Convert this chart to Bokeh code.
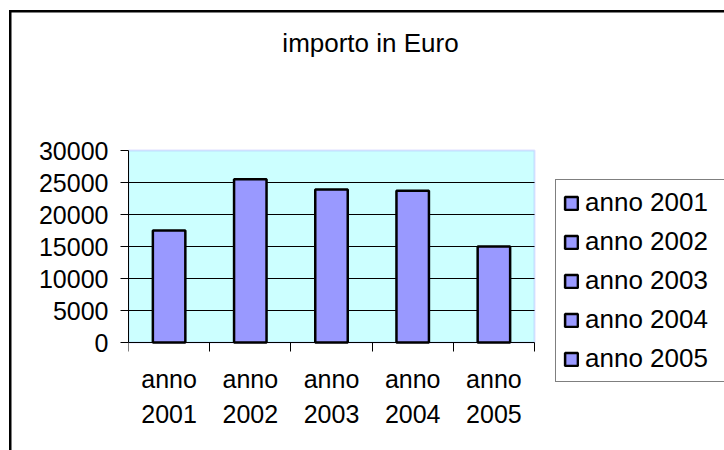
from bokeh.plotting import figure
from bokeh.models import (Range1d, FixedTicker, LegendItem, Legend, Label,
                          BoxAnnotation, ColumnDataSource)
from bokeh.core.properties import value
from bokeh.embed import file_html
from bokeh.resources import INLINE
import numpy as np

# ---- data ----
categories = ["anno 2001", "anno 2002", "anno 2003", "anno 2004", "anno 2005"]
values = [17500, 25500, 23900, 23700, 15000]
y_ticks = [0, 5000, 10000, 15000, 20000, 25000, 30000]
title_text = "importo in Euro"

FONT = "Liberation Sans"
BAR = "#9999FF"

# ---- layout (pixels) ----
W, H = 724, 450
LEFT, BOTTOM = 128, 20          # borders around the drawing frame
AREA_W, AREA_H = 406, 192       # size of the plotting area
AREA_TOP = 150                  # top of plotting area from the top of the page
n = len(categories)
frame_w, frame_h = W - LEFT, H - BOTTOM
ux = AREA_W / n                       # px per category
uy = AREA_H / y_ticks[-1]             # px per euro
x_range = Range1d(0.5, 0.5 + frame_w / ux)
y_bottom = -(frame_h - AREA_TOP - AREA_H) / uy
y_range = Range1d(y_bottom, y_bottom + frame_h / uy)

xpos = list(np.arange(1, n + 1))
src = ColumnDataSource(dict(x=xpos, top=values, cat=categories,
                            lab=[c.replace(" ", "\n") for c in categories]))

p = figure(width=W, height=H, output_backend="svg", toolbar_location=None,
           x_range=x_range, y_range=y_range,
           min_border_left=LEFT, min_border_right=0,
           min_border_top=0, min_border_bottom=BOTTOM)
p.background_fill_color = None
p.border_fill_color = None
p.outline_line_color = None
p.styles = {
    "background": "linear-gradient(black, black) 9px 10px / 2.5px 100% no-repeat, "
                  "linear-gradient(black, black) 9px 10px / 100% 2.5px no-repeat, white"
}
p.grid.visible = False

# plotting area
p.add_layout(BoxAnnotation(left=0.5, right=n + 0.5, bottom=0, top=y_ticks[-1],
                           fill_color="#CCFFFF", fill_alpha=1,
                           line_color=BAR, line_width=2, level="underlay"))
# horizontal grid lines
inner = y_ticks[1:-1]
p.segment(x0=[0.5] * len(inner), x1=[n + 0.5] * len(inner), y0=inner, y1=inner,
          line_color="black", line_width=1)

r = p.vbar(x="x", top="top", width=0.4, source=src, fill_color=BAR,
           line_color="black", line_width=2.5)

# category labels under each bar
p.text(x="x", y=0, text="lab", source=src, text_align="center", text_baseline="top",
       y_offset=22, text_font=value(FONT), text_font_size="25px",
       text_color="black", text_line_height=1.25)

# x axis: line at 0, tick marks at category boundaries
p.xaxis.fixed_location = 0
p.xaxis.bounds = (0.5, n + 0.5)
p.xaxis.ticker = FixedTicker(ticks=xpos, minor_ticks=list(np.arange(0, n + 1) + 0.5))
p.xaxis.major_tick_out = 0
p.xaxis.major_tick_in = 0
p.xaxis.minor_tick_out = 9
p.xaxis.minor_tick_in = 0
p.xaxis.minor_tick_line_color = "black"
p.xaxis.axis_line_color = "black"
p.xaxis.major_label_text_font_size = "0px"
p.xaxis.major_label_text_alpha = 0
p.xaxis.major_label_standoff = 0

# y axis
p.yaxis.bounds = (0, y_ticks[-1])
p.yaxis.ticker = FixedTicker(ticks=y_ticks, minor_ticks=[])
p.yaxis.major_label_overrides = {v: str(v) for v in y_ticks}
p.yaxis.major_tick_out = 8
p.yaxis.major_tick_in = 0
p.yaxis.major_tick_line_color = "black"
p.yaxis.axis_line_color = "black"
p.yaxis.major_label_standoff = 12
p.yaxis.major_label_text_font = FONT
p.yaxis.major_label_text_font_size = "25px"
p.yaxis.major_label_text_color = "black"

# title
p.add_layout(Label(x=242, y=frame_h - 42, x_units="screen", y_units="screen",
                   text=title_text, text_align="center", text_baseline="alphabetic",
                   text_font=FONT, text_font_size="26px", text_color="black"))

# legend
items = [LegendItem(label=c, renderers=[r], index=i) for i, c in enumerate(categories)]
legend = Legend(items=items, location=(427, frame_h - 382))
legend.label_text_font = FONT
legend.label_text_font_size = "26px"
legend.label_text_color = "black"
legend.glyph_width = 16
legend.glyph_height = 16
legend.label_standoff = 6
legend.label_width = 134
legend.label_height = 30
legend.spacing = 8
legend.padding = 7
legend.margin = 0
legend.border_line_color = "black"
legend.border_line_width = 1
legend.background_fill_color = "white"
legend.background_fill_alpha = 1
p.add_layout(legend)

open("out.html", "w").write(file_html(p, INLINE))
